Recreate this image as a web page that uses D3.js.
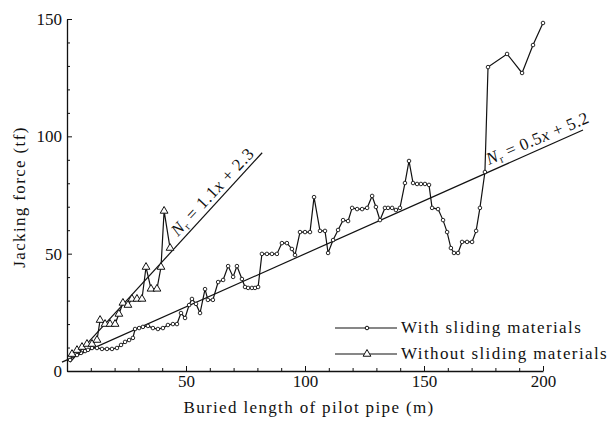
<!DOCTYPE html>
<html><head><meta charset="utf-8">
<script src="https://cdn.jsdelivr.net/npm/d3@7"></script>
<style>
body{margin:0;background:#fff;}
svg{display:block;}
text{font-family:"Liberation Serif","DejaVu Serif",serif;fill:#111;}
</style></head>
<body>
<svg id="c" width="610" height="425"></svg>
<script>
// With sliding materials (buried length m, jacking force tf)
const withX = [1.3,2.5,4.2,5.9,7.6,8.8,10.5,12.6,14.7,16.8,18.9,21.0,22.7,24.4,26.1,27.7,28.6,30.3,31.9,34.0,36.1,38.2,40.3,42.4,44.5,46.2,47.9,49.6,51.3,52.5,54.2,55.9,58.0,59.2,61.3,63.5,65.6,67.7,69.8,71.4,73.5,74.8,76.1,77.7,79.0,80.3,81.9,84.0,86.1,88.2,90.3,92.4,94.5,95.8,97.9,100.0,102.1,103.8,106.3,108.4,109.7,111.8,113.9,116.0,118.1,119.8,121.9,124.0,126.1,128.2,129.8,131.5,133.6,134.9,136.6,138.2,139.9,142.0,143.7,145.4,147.1,148.7,150.4,152.1,153.4,155.9,158.0,159.7,161.3,162.6,164.3,166.0,168.1,170.2,171.9,173.5,175.6,176.9,184.9,191.2,195.8,200.0];
const withY = [4.7,6.4,6.8,7.7,8.5,9.0,9.8,9.8,9.4,9.4,9.4,9.8,11.1,12.4,13.2,14.1,17.9,18.3,18.8,19.2,18.3,17.9,18.3,19.6,20.0,20.0,24.7,22.6,28.1,30.7,28.6,24.7,34.9,30.3,30.3,37.9,38.8,44.7,40.1,44.7,39.2,35.8,35.4,35.4,35.4,35.8,49.9,49.9,49.9,49.9,54.5,54.5,52.0,49.4,59.2,59.2,59.2,74.1,59.7,59.7,50.3,55.8,60.1,64.3,63.9,69.5,69.0,69.0,69.5,74.6,69.9,64.3,69.5,69.5,69.5,68.6,69.5,80.1,89.5,80.1,79.7,79.7,79.7,79.3,69.5,69.0,64.3,59.2,52.4,50.3,50.3,55.0,55.0,55.0,59.7,69.5,84.8,129.5,135.1,127.0,138.9,148.3];
// Without sliding materials
const withoutX = [2.1,4.2,6.3,8.4,10.5,12.6,13.9,16.0,18.1,20.2,21.8,23.5,25.6,27.3,29.4,31.5,33.2,35.3,37.8,39.5,40.8,43.3];
const withoutY = [7.2,8.9,10.2,11.5,11.5,13.2,21.7,20.0,20.0,20.0,24.3,29.0,28.1,30.7,30.7,30.7,44.3,35.0,35.0,44.3,68.2,52.4];
// Regression lines (end points)
const fit1X = [1.3, 82];  const fit1Y = [3.8, 93];
const fit2X = [-2.1, 216.8]; const fit2Y = [3.8, 102.7];
const xMajor = [50,100,150,200];
const yMajor = [0,50,100,150];
const xMinor = [10,20,30,40,60,70,80,90,110,120,130,140,160,170,180,190];
const yMinor = [10,20,30,40,60,70,80,90,110,120,130,140];
const legendLabels = ["With sliding materials","Without sliding materials"];
const eqLabels = [["1.1","2.3"],["0.5","5.2"]];

const svg = d3.select("#c");
const x = d3.scaleLinear().domain([0,200]).range([67,543]);
const y = d3.scaleLinear().domain([0,150]).range([371,19]);
const ink = "#111";

// axes
svg.append("g").attr("transform","translate(0,371)")
  .call(d3.axisBottom(x).tickValues(xMajor).tickSizeInner(-5).tickSizeOuter(0).tickPadding(4));
svg.append("g").attr("transform","translate(0,371)")
  .call(d3.axisBottom(x).tickValues(xMinor).tickSize(-3).tickFormat("")).select(".domain").remove();
svg.append("g").attr("transform","translate(67,0)")
  .call(d3.axisLeft(y).tickValues(yMajor).tickSizeInner(-5).tickSizeOuter(0).tickPadding(5));
svg.append("g").attr("transform","translate(67,0)")
  .call(d3.axisLeft(y).tickValues(yMinor).tickSize(-3).tickFormat("")).select(".domain").remove();
svg.selectAll(".domain").attr("stroke",ink).attr("stroke-width",1.3);
svg.selectAll(".tick line").attr("stroke",ink).attr("stroke-width",1);
svg.selectAll(".tick text").attr("font-family","Liberation Serif").attr("font-size",17).attr("fill",ink);

// axis titles
svg.append("text").attr("x",309).attr("y",413).attr("text-anchor","middle")
  .attr("font-size",17).attr("letter-spacing",1.35).text("Buried length of pilot pipe (m)");
svg.append("text").attr("transform","translate(25,197) rotate(-90)").attr("text-anchor","middle")
  .attr("font-size",17).attr("letter-spacing",1.35).text("Jacking force (tf)");

// fit lines
const line = d3.line().x(d=>x(d[0])).y(d=>y(d[1]));
svg.append("path").datum(d3.zip(fit1X,fit1Y)).attr("d",line).attr("fill","none").attr("stroke",ink).attr("stroke-width",1.2);
svg.append("path").datum(d3.zip(fit2X,fit2Y)).attr("d",line).attr("fill","none").attr("stroke",ink).attr("stroke-width",1.2);

// series
const dWith = d3.zip(withX,withY);
const dWithout = d3.zip(withoutX,withoutY);
svg.append("path").datum(dWith).attr("d",line).attr("fill","none").attr("stroke",ink).attr("stroke-width",1.2);
svg.append("path").datum(dWithout).attr("d",line).attr("fill","none").attr("stroke",ink).attr("stroke-width",1.2);
svg.append("g").selectAll("circle").data(dWith).join("circle")
  .attr("cx",d=>x(d[0])).attr("cy",d=>y(d[1])).attr("r",1.8)
  .attr("fill","#fff").attr("stroke",ink).attr("stroke-width",0.9);
const tri = d3.symbol().type(d3.symbolTriangle).size(26);
svg.append("g").selectAll("path").data(dWithout).join("path")
  .attr("d",tri).attr("transform",d=>`translate(${x(d[0])},${y(d[1])})`)
  .attr("fill","#fff").attr("stroke",ink).attr("stroke-width",1);

// annotations
function eq(t, lab){
  t.append("tspan").attr("font-style","italic").text("N");
  t.append("tspan").attr("font-size",11).attr("dy",3).text("r");
  t.append("tspan").attr("dy",-3).text(" = " + lab[0]);
  t.append("tspan").attr("font-style","italic").text("x");
  t.append("tspan").text(" + " + lab[1]);
}
eq(svg.append("text").attr("transform","translate(178,237) rotate(-47)").attr("font-size",17).attr("letter-spacing",0.8), eqLabels[0]);
eq(svg.append("text").attr("transform","translate(489,165) rotate(-23)").attr("font-size",17).attr("letter-spacing",0.6), eqLabels[1]);

// legend
const lg = svg.append("g");
[0,1].forEach(i=>{
  const yy = 328 + i*26;
  lg.append("line").attr("x1",335).attr("x2",397).attr("y1",yy).attr("y2",yy).attr("stroke",ink).attr("stroke-width",1.2);
  if(i===0) lg.append("circle").attr("cx",367).attr("cy",yy).attr("r",1.8).attr("fill","#fff").attr("stroke",ink);
  else lg.append("path").attr("d",tri).attr("transform",`translate(367,${yy})`).attr("fill","#fff").attr("stroke",ink);
  lg.append("text").attr("x",401).attr("y",yy+5).attr("font-size",17).attr("letter-spacing",1.4).text(legendLabels[i]);
});
</script>
</body></html>
